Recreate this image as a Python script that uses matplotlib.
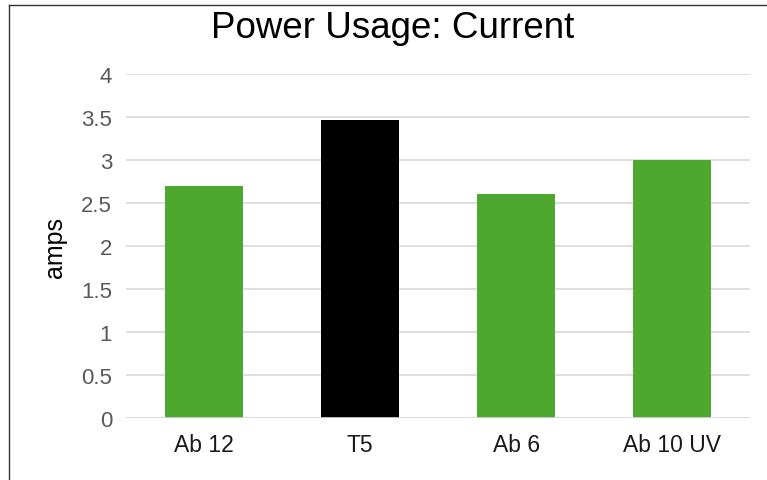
import matplotlib
matplotlib.use("Agg")
import matplotlib.pyplot as plt
from matplotlib.lines import Line2D

categories = ["Ab 12", "T5", "Ab 6", "Ab 10 UV"]
amps = [2.7, 3.47, 2.6, 3.0]
bar_colors = ["#4EA72E", "#000000", "#4EA72E", "#4EA72E"]
yticks = [0, 0.5, 1, 1.5, 2, 2.5, 3, 3.5, 4]

plt.rcParams["font.family"] = ["Liberation Sans", "DejaVu Sans"]

fig = plt.figure(figsize=(7.67, 4.81), dpi=100)
ax = fig.add_axes([0.1643, 0.1289, 0.8137, 0.7151])

ax.bar(range(len(categories)), amps, width=0.5, color=bar_colors, zorder=3)

ax.set_xlim(-0.5, len(categories) - 0.5)
ax.set_ylim(0, 4)
ax.set_yticks(yticks)
ax.set_yticklabels([f"{t:g}" for t in yticks])
ax.set_xticks(range(len(categories)))
ax.set_xticklabels(categories)

ax.grid(axis="y", color="#d9d9d9", linewidth=1.2, zorder=0)
ax.axhline(0, color="#d9d9d9", linewidth=1.2, zorder=4)
for s in ax.spines.values():
    s.set_visible(False)
ax.tick_params(axis="y", length=0, pad=10, labelsize=16, labelcolor="#595959")
ax.tick_params(axis="x", length=0, pad=11, labelsize=16.5, labelcolor="#1a1a1a")

ax.set_ylabel("amps", fontsize=18, labelpad=10)
fig.text(0.512, 0.921, "Power Usage: Current", fontsize=26.5, ha="center", va="baseline")

# frame of the chart area (left and top edges)
fig.add_artist(Line2D([0.0117, 0.0117], [0, 0.9875], transform=fig.transFigure, color="#333333", linewidth=1))
fig.add_artist(Line2D([0.0117, 1.0], [0.9875, 0.9875], transform=fig.transFigure, color="#333333", linewidth=1))

fig.savefig("out.png", dpi=100)
